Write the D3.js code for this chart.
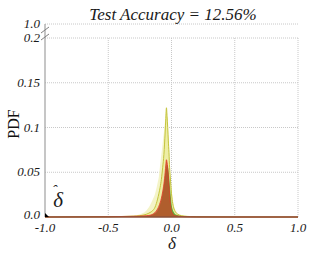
<!DOCTYPE html>
<html><head><meta charset="utf-8">
<script src="https://cdn.jsdelivr.net/npm/d3@7"></script>
<style>body{margin:0;background:#fff}svg{display:block}</style>
</head><body><svg id="c" width="332" height="253"></svg>
<script>
const delta = [-1, -0.5, -0.3, -0.25, -0.2, -0.17, -0.15, -0.13, -0.11, -0.1, -0.09, -0.08, -0.07, -0.06, -0.05, -0.045, -0.04, -0.035, -0.03, -0.025, -0.02, -0.015, -0.01, -0.005, 0, 0.01, 0.02, 0.03, 0.05, 0.08, 0.1, 0.15, 0.2, 0.5, 1.0];
const pdfYellowBand = [0, 0.0005, 0.0015, 0.003, 0.007, 0.013, 0.019, 0.026, 0.038, 0.045, 0.058, 0.07, 0.082, 0.095, 0.108, 0.115, 0.123, 0.116, 0.106, 0.093, 0.08, 0.065, 0.053, 0.042, 0.032, 0.02, 0.012, 0.008, 0.004, 0.002, 0.0013, 0.0007, 0.0004, 0.0001, 0];
const pdfYellow = [0, 0.0003, 0.001, 0.0015, 0.003, 0.005, 0.007, 0.011, 0.02, 0.026, 0.033, 0.042, 0.055, 0.07, 0.095, 0.11, 0.122, 0.112, 0.1, 0.085, 0.072, 0.055, 0.045, 0.035, 0.026, 0.015, 0.009, 0.006, 0.003, 0.0015, 0.001, 0.0005, 0.0003, 0.0001, 0];
const pdfGreen = [0, 0.0002, 0.0006, 0.0008, 0.0012, 0.0018, 0.0025, 0.004, 0.007, 0.01, 0.014, 0.019, 0.026, 0.035, 0.046, 0.052, 0.056, 0.058, 0.057, 0.053, 0.047, 0.038, 0.03, 0.022, 0.015, 0.008, 0.005, 0.003, 0.002, 0.0012, 0.0008, 0.0004, 0.0002, 0, 0];
const pdfRed = [0, 0.0003, 0.0008, 0.001, 0.0015, 0.002, 0.003, 0.005, 0.009, 0.012, 0.016, 0.021, 0.028, 0.037, 0.05, 0.058, 0.064, 0.061, 0.055, 0.046, 0.036, 0.026, 0.017, 0.011, 0.007, 0.004, 0.002, 0.0015, 0.001, 0.0006, 0.0004, 0.0002, 0.0001, 0, 0];
const xTicks = [-1.0, -0.5, 0.0, 0.5, 1.0];
const xTickLabels = ["-1.0", "-0.5", "0.0", "0.5", "1.0"];
const yTicks = [0, 0.05, 0.1, 0.15, 0.2, 1.0];
const yTickLabels = ["0.0", "0.05", "0.1", "0.15", "0.2", "1.0"];
const title = "Test Accuracy = 12.56%";

const svg = d3.select("#c");
const x = d3.scaleLinear().domain([-1, 1]).range([45, 298]);
const y = d3.scaleLinear().domain([0, 0.2, 1.0]).range([217, 38, 24]);
const serif = "'Liberation Serif', 'DejaVu Serif', serif";

// grid
const g = svg.append("g");
yTicks.filter(v => v > 0).forEach(v => {
  g.append("line").attr("x1", x(-1)).attr("x2", x(1)).attr("y1", y(v)).attr("y2", y(v))
    .attr("stroke", "#c8c8c8").attr("stroke-width", 1).attr("stroke-dasharray", "1,1");
});
xTicks.filter(v => v > -1).forEach(v => {
  g.append("line").attr("x1", x(v)).attr("x2", x(v)).attr("y1", y(0.2)).attr("y2", y(0))
    .attr("stroke", "#c8c8c8").attr("stroke-width", 1).attr("stroke-dasharray", "1,1");
});

const pts = s => delta.map((d, i) => [d, s[i]]);
const area = d3.area().x(d => x(d[0])).y0(y(0)).y1(d => y(d[1])).curve(d3.curveMonotoneX);
const line = d3.line().x(d => x(d[0])).y(d => y(d[1])).curve(d3.curveMonotoneX);

svg.append("path").attr("d", area(pts(pdfYellowBand))).attr("fill", "#f4f4c8");
svg.append("path").attr("d", area(pts(pdfYellow))).attr("fill", "#ecec9c").attr("fill-opacity", 0.8);
svg.append("path").attr("d", line(pts(pdfYellow))).attr("fill", "none").attr("stroke", "#c4c43c").attr("stroke-width", 1);
svg.append("path").attr("d", area(pts(pdfGreen))).attr("fill", "#4aa82c").attr("fill-opacity", 0.9);
svg.append("path").attr("d", area(pts(pdfRed))).attr("fill", "#c8462a").attr("fill-opacity", 0.78);
svg.append("path").attr("d", line(pts(pdfRed))).attr("fill", "none").attr("stroke", "#e03a28").attr("stroke-width", 0.8);

// baseline
svg.append("line").attr("x1", x(-1)).attr("x2", x(1)).attr("y1", y(0)).attr("y2", y(0))
  .attr("stroke", "#8a5038").attr("stroke-width", 1.5);
// left axis
svg.append("line").attr("x1", x(-1)).attr("x2", x(-1)).attr("y1", y(1.0)).attr("y2", y(0))
  .attr("stroke", "#a0a0a0").attr("stroke-width", 1.2);
// break marks
[30, 37].forEach(yy => {
  svg.append("line").attr("x1", 41).attr("y1", yy + 3).attr("x2", 49).attr("y2", yy - 3)
    .attr("stroke", "#808080").attr("stroke-width", 1);
});
// corner mark
svg.append("path").attr("d", `M${x(-1)},${y(0)-4}L${x(-1)},${y(0)}L${x(-1)+4},${y(0)}Z`).attr("fill", "#000");

const txt = (xx, yy, s, size, anchor) => svg.append("text").attr("x", xx).attr("y", yy)
  .attr("text-anchor", anchor).attr("font-family", serif).attr("font-style", "italic")
  .attr("font-size", size).attr("fill", "#1a1a1a").text(s);

yTicks.forEach((v, i) => txt(40, y(v) + (v === 0 ? 2 : 4), yTickLabels[i], 13, "end"));
xTicks.forEach((v, i) => txt(x(v), 232, xTickLabels[i], 13, "middle"));
txt(173, 20, title, 17, "middle");
svg.append("text").attr("transform", "translate(19,124) rotate(-90)").attr("text-anchor", "middle")
  .attr("font-family", serif).attr("font-size", 16).attr("fill", "#111").text("PDF");
txt(172, 249, "δ", 17, "middle");
const hat = txt(52, 207, "δ", 21, "start");
hat.append("tspan").attr("dx", -11).attr("dy", -12).attr("font-size", 15).text("ˆ");
</script></body></html>
